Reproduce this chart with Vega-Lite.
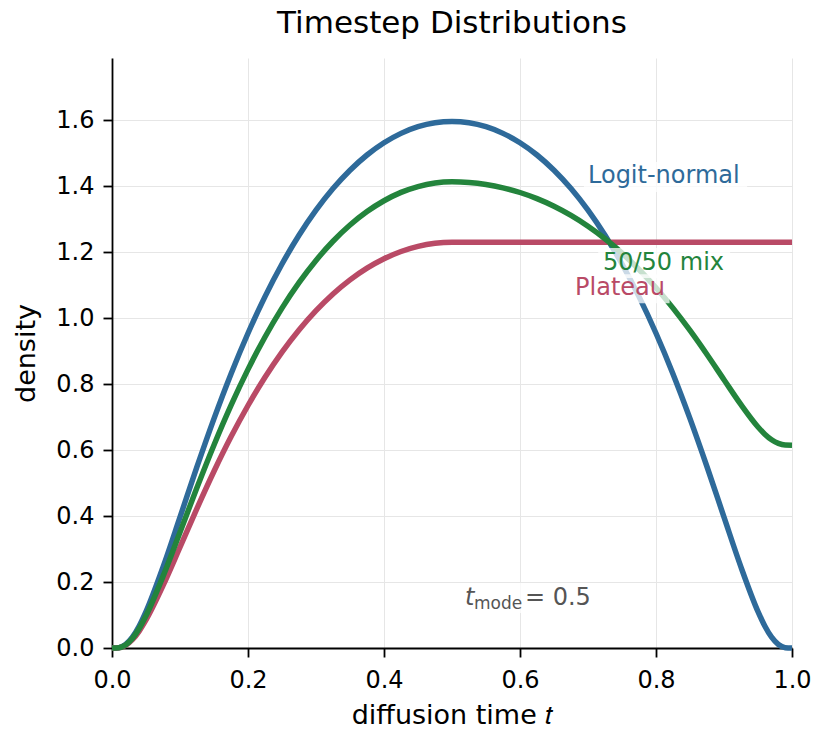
{
  "$schema": "https://vega.github.io/schema/vega-lite/v6.json",
  "width": 680,
  "height": 590,
  "autosize": {"type": "none"},
  "padding": {"left": 112, "top": 58, "right": 22, "bottom": 82},
  "background": "white",
  "title": {"text": "Timestep Distributions", "font": "DejaVu Sans", "fontSize": 31, "fontWeight": "normal", "color": "black", "offset": 18, "anchor": "middle"},
  "config": {
    "view": {"stroke": null},
    "font": "DejaVu Sans",
    "axis": {
      "labelFont": "DejaVu Sans", "labelFontSize": 24, "labelColor": "black", "labelFlush": false,
      "titleFont": "DejaVu Sans", "titleFontSize": 27, "titleFontWeight": "normal", "titleColor": "black",
      "domainColor": "black", "domainWidth": 1.8, "tickColor": "black", "tickWidth": 1.8, "tickSize": 9,
      "gridColor": "#e6e6e6", "gridWidth": 1
    }
  },
  "datasets": {
    "curves": [
      {"t": 0, "s": "Logit-normal", "d": 0},
      {"t": 0.01, "s": "Logit-normal", "d": 0.001},
      {"t": 0.02, "s": "Logit-normal", "d": 0.0105},
      {"t": 0.03, "s": "Logit-normal", "d": 0.0326},
      {"t": 0.04, "s": "Logit-normal", "d": 0.0666},
      {"t": 0.05, "s": "Logit-normal", "d": 0.1102},
      {"t": 0.075, "s": "Logit-normal", "d": 0.2451},
      {"t": 0.1, "s": "Logit-normal", "d": 0.3965},
      {"t": 0.125, "s": "Logit-normal", "d": 0.5493},
      {"t": 0.15, "s": "Logit-normal", "d": 0.6951},
      {"t": 0.175, "s": "Logit-normal", "d": 0.8305},
      {"t": 0.2, "s": "Logit-normal", "d": 0.9538},
      {"t": 0.225, "s": "Logit-normal", "d": 1.0648},
      {"t": 0.25, "s": "Logit-normal", "d": 1.1636},
      {"t": 0.275, "s": "Logit-normal", "d": 1.2507},
      {"t": 0.3, "s": "Logit-normal", "d": 1.3267},
      {"t": 0.325, "s": "Logit-normal", "d": 1.3923},
      {"t": 0.35, "s": "Logit-normal", "d": 1.4479},
      {"t": 0.375, "s": "Logit-normal", "d": 1.494},
      {"t": 0.4, "s": "Logit-normal", "d": 1.5311},
      {"t": 0.425, "s": "Logit-normal", "d": 1.5596},
      {"t": 0.45, "s": "Logit-normal", "d": 1.5797},
      {"t": 0.475, "s": "Logit-normal", "d": 1.5918},
      {"t": 0.5, "s": "Logit-normal", "d": 1.5958},
      {"t": 0.525, "s": "Logit-normal", "d": 1.5918},
      {"t": 0.55, "s": "Logit-normal", "d": 1.5797},
      {"t": 0.575, "s": "Logit-normal", "d": 1.5596},
      {"t": 0.6, "s": "Logit-normal", "d": 1.5311},
      {"t": 0.625, "s": "Logit-normal", "d": 1.494},
      {"t": 0.65, "s": "Logit-normal", "d": 1.4479},
      {"t": 0.675, "s": "Logit-normal", "d": 1.3923},
      {"t": 0.7, "s": "Logit-normal", "d": 1.3267},
      {"t": 0.725, "s": "Logit-normal", "d": 1.2507},
      {"t": 0.75, "s": "Logit-normal", "d": 1.1636},
      {"t": 0.775, "s": "Logit-normal", "d": 1.0648},
      {"t": 0.8, "s": "Logit-normal", "d": 0.9538},
      {"t": 0.825, "s": "Logit-normal", "d": 0.8305},
      {"t": 0.85, "s": "Logit-normal", "d": 0.6951},
      {"t": 0.875, "s": "Logit-normal", "d": 0.5493},
      {"t": 0.9, "s": "Logit-normal", "d": 0.3965},
      {"t": 0.925, "s": "Logit-normal", "d": 0.2451},
      {"t": 0.95, "s": "Logit-normal", "d": 0.1102},
      {"t": 0.96, "s": "Logit-normal", "d": 0.0666},
      {"t": 0.97, "s": "Logit-normal", "d": 0.0326},
      {"t": 0.98, "s": "Logit-normal", "d": 0.0105},
      {"t": 0.99, "s": "Logit-normal", "d": 0.001},
      {"t": 1.0, "s": "Logit-normal", "d": 0},

      {"t": 0, "s": "Plateau", "d": 0},
      {"t": 0.01, "s": "Plateau", "d": 0.0008},
      {"t": 0.02, "s": "Plateau", "d": 0.0081},
      {"t": 0.03, "s": "Plateau", "d": 0.0251},
      {"t": 0.04, "s": "Plateau", "d": 0.0513},
      {"t": 0.05, "s": "Plateau", "d": 0.0849},
      {"t": 0.075, "s": "Plateau", "d": 0.1888},
      {"t": 0.1, "s": "Plateau", "d": 0.3055},
      {"t": 0.125, "s": "Plateau", "d": 0.4232},
      {"t": 0.15, "s": "Plateau", "d": 0.5356},
      {"t": 0.175, "s": "Plateau", "d": 0.6399},
      {"t": 0.2, "s": "Plateau", "d": 0.7349},
      {"t": 0.225, "s": "Plateau", "d": 0.8204},
      {"t": 0.25, "s": "Plateau", "d": 0.8966},
      {"t": 0.275, "s": "Plateau", "d": 0.9637},
      {"t": 0.3, "s": "Plateau", "d": 1.0222},
      {"t": 0.325, "s": "Plateau", "d": 1.0728},
      {"t": 0.35, "s": "Plateau", "d": 1.1156},
      {"t": 0.375, "s": "Plateau", "d": 1.1511},
      {"t": 0.4, "s": "Plateau", "d": 1.1797},
      {"t": 0.425, "s": "Plateau", "d": 1.2017},
      {"t": 0.45, "s": "Plateau", "d": 1.2172},
      {"t": 0.475, "s": "Plateau", "d": 1.2265},
      {"t": 0.5, "s": "Plateau", "d": 1.2296},
      {"t": 0.75, "s": "Plateau", "d": 1.2296},
      {"t": 1.0, "s": "Plateau", "d": 1.2296},

      {"t": 0, "s": "50/50 mix", "d": 0},
      {"t": 0.01, "s": "50/50 mix", "d": 0.0009},
      {"t": 0.02, "s": "50/50 mix", "d": 0.0093},
      {"t": 0.03, "s": "50/50 mix", "d": 0.0289},
      {"t": 0.04, "s": "50/50 mix", "d": 0.059},
      {"t": 0.05, "s": "50/50 mix", "d": 0.0976},
      {"t": 0.075, "s": "50/50 mix", "d": 0.217},
      {"t": 0.1, "s": "50/50 mix", "d": 0.351},
      {"t": 0.125, "s": "50/50 mix", "d": 0.4863},
      {"t": 0.15, "s": "50/50 mix", "d": 0.6154},
      {"t": 0.175, "s": "50/50 mix", "d": 0.7352},
      {"t": 0.2, "s": "50/50 mix", "d": 0.8444},
      {"t": 0.225, "s": "50/50 mix", "d": 0.9426},
      {"t": 0.25, "s": "50/50 mix", "d": 1.0301},
      {"t": 0.275, "s": "50/50 mix", "d": 1.1072},
      {"t": 0.3, "s": "50/50 mix", "d": 1.1745},
      {"t": 0.325, "s": "50/50 mix", "d": 1.2326},
      {"t": 0.35, "s": "50/50 mix", "d": 1.2818},
      {"t": 0.375, "s": "50/50 mix", "d": 1.3226},
      {"t": 0.4, "s": "50/50 mix", "d": 1.3554},
      {"t": 0.425, "s": "50/50 mix", "d": 1.3807},
      {"t": 0.45, "s": "50/50 mix", "d": 1.3985},
      {"t": 0.475, "s": "50/50 mix", "d": 1.4092},
      {"t": 0.5, "s": "50/50 mix", "d": 1.4127},
      {"t": 0.525, "s": "50/50 mix", "d": 1.4107},
      {"t": 0.55, "s": "50/50 mix", "d": 1.4047},
      {"t": 0.575, "s": "50/50 mix", "d": 1.3946},
      {"t": 0.6, "s": "50/50 mix", "d": 1.3804},
      {"t": 0.625, "s": "50/50 mix", "d": 1.3618},
      {"t": 0.65, "s": "50/50 mix", "d": 1.3388},
      {"t": 0.675, "s": "50/50 mix", "d": 1.311},
      {"t": 0.7, "s": "50/50 mix", "d": 1.2782},
      {"t": 0.725, "s": "50/50 mix", "d": 1.2402},
      {"t": 0.75, "s": "50/50 mix", "d": 1.1966},
      {"t": 0.775, "s": "50/50 mix", "d": 1.1472},
      {"t": 0.8, "s": "50/50 mix", "d": 1.0917},
      {"t": 0.825, "s": "50/50 mix", "d": 1.0301},
      {"t": 0.85, "s": "50/50 mix", "d": 0.9624},
      {"t": 0.875, "s": "50/50 mix", "d": 0.8895},
      {"t": 0.9, "s": "50/50 mix", "d": 0.8131},
      {"t": 0.925, "s": "50/50 mix", "d": 0.7374},
      {"t": 0.95, "s": "50/50 mix", "d": 0.6699},
      {"t": 0.96, "s": "50/50 mix", "d": 0.6481},
      {"t": 0.97, "s": "50/50 mix", "d": 0.6311},
      {"t": 0.98, "s": "50/50 mix", "d": 0.6201},
      {"t": 0.99, "s": "50/50 mix", "d": 0.6153},
      {"t": 1.0, "s": "50/50 mix", "d": 0.6148}
    ],
    "labels": [
      {"s": "Logit-normal", "text": "Logit-normal", "x": 0.7, "y": 1.43, "bx1": 0.694, "bx2": 0.934, "by1": 1.382, "by2": 1.473},
      {"s": "50/50 mix", "text": "50/50 mix", "x": 0.722, "y": 1.167, "bx1": 0.715, "bx2": 0.909, "by1": 1.121, "by2": 1.212},
      {"s": "Plateau", "text": "Plateau", "x": 0.681, "y": 1.091, "bx1": 0.676, "bx2": 0.82, "by1": 1.045, "by2": 1.133}
    ]
  },
  "layer": [
    {
      "mark": {"type": "rect", "color": "#b94a66", "opacity": 0.045},
      "encoding": {
        "x": {"datum": 0.5, "type": "quantitative", "scale": {"domain": [0, 1], "nice": false, "zero": false},
          "axis": {"values": [0, 0.2, 0.4, 0.6, 0.8, 1.0], "format": ".1f", "title": "diffusion time 𝑡", "labelPadding": 11, "titlePadding": 10, "grid": true}},
        "x2": {"datum": 1.0}
      }
    },
    {
      "data": {"name": "curves"},
      "transform": [{"filter": "datum.s === 'Logit-normal'"}],
      "mark": {"type": "line", "strokeWidth": 5.5, "interpolate": "monotone", "color": "#2e6a9a"},
      "encoding": {
        "x": {"field": "t", "type": "quantitative"},
        "y": {"field": "d", "type": "quantitative", "scale": {"domain": [0, 1.788], "nice": false},
          "axis": {"values": [0, 0.2, 0.4, 0.6, 0.8, 1.0, 1.2, 1.4, 1.6], "format": ".1f", "title": "density", "labelPadding": 9, "titlePadding": 15, "grid": true}}
      }
    },
    {
      "data": {"name": "curves"},
      "transform": [{"filter": "datum.s === 'Plateau'"}],
      "mark": {"type": "line", "strokeWidth": 5.5, "interpolate": "monotone", "color": "#b94a66"},
      "encoding": {
        "x": {"field": "t", "type": "quantitative"},
        "y": {"field": "d", "type": "quantitative"}
      }
    },
    {
      "data": {"name": "curves"},
      "transform": [{"filter": "datum.s === '50/50 mix'"}],
      "mark": {"type": "line", "strokeWidth": 5.5, "interpolate": "monotone", "color": "#23843c"},
      "encoding": {
        "x": {"field": "t", "type": "quantitative"},
        "y": {"field": "d", "type": "quantitative"}
      }
    },
    {
      "mark": {"type": "rule", "color": "#808080", "strokeWidth": 2.5, "strokeDash": [8, 4]},
      "encoding": {"x": {"datum": 0.5}}
    },
    {
      "data": {"name": "labels"},
      "mark": {"type": "rect", "color": "white", "opacity": 0.75},
      "encoding": {
        "x": {"field": "bx1", "type": "quantitative"},
        "x2": {"field": "bx2"},
        "y": {"field": "by1", "type": "quantitative"},
        "y2": {"field": "by2"}
      }
    },
    {
      "data": {"name": "labels"},
      "mark": {"type": "text", "align": "left", "baseline": "middle", "fontSize": 24, "font": "DejaVu Sans"},
      "encoding": {
        "x": {"field": "x", "type": "quantitative"},
        "y": {"field": "y", "type": "quantitative"},
        "text": {"field": "text"},
        "color": {"field": "s", "type": "nominal", "scale": {"domain": ["Logit-normal", "50/50 mix", "Plateau"], "range": ["#2e6a9a", "#23843c", "#b94a66"]}, "legend": null}
      }
    },
    {
      "data": {"values": [{"x1": 0.513, "x2": 0.713, "y1": 0.106, "y2": 0.197, "x": 0.519, "y": 0.152}]},
      "layer": [
        {
          "mark": {"type": "rect", "color": "white", "opacity": 0.75},
          "encoding": {
            "x": {"field": "x1", "type": "quantitative"},
            "x2": {"field": "x2"},
            "y": {"field": "y1", "type": "quantitative"},
            "y2": {"field": "y2"}
          }
        },
        {
          "mark": {"type": "text", "align": "left", "baseline": "middle", "fontSize": 24, "fontStyle": "italic", "color": "#555555", "text": "t"},
          "encoding": {"x": {"field": "x", "type": "quantitative"}, "y": {"field": "y", "type": "quantitative"}}
        },
        {
          "mark": {"type": "text", "align": "left", "baseline": "middle", "fontSize": 17, "color": "#555555", "text": "mode", "dx": 9, "dy": 6},
          "encoding": {"x": {"field": "x", "type": "quantitative"}, "y": {"field": "y", "type": "quantitative"}}
        },
        {
          "mark": {"type": "text", "align": "left", "baseline": "middle", "fontSize": 24, "color": "#555555", "text": "= 0.5", "dx": 60},
          "encoding": {"x": {"field": "x", "type": "quantitative"}, "y": {"field": "y", "type": "quantitative"}}
        }
      ]
    }
  ]
}
